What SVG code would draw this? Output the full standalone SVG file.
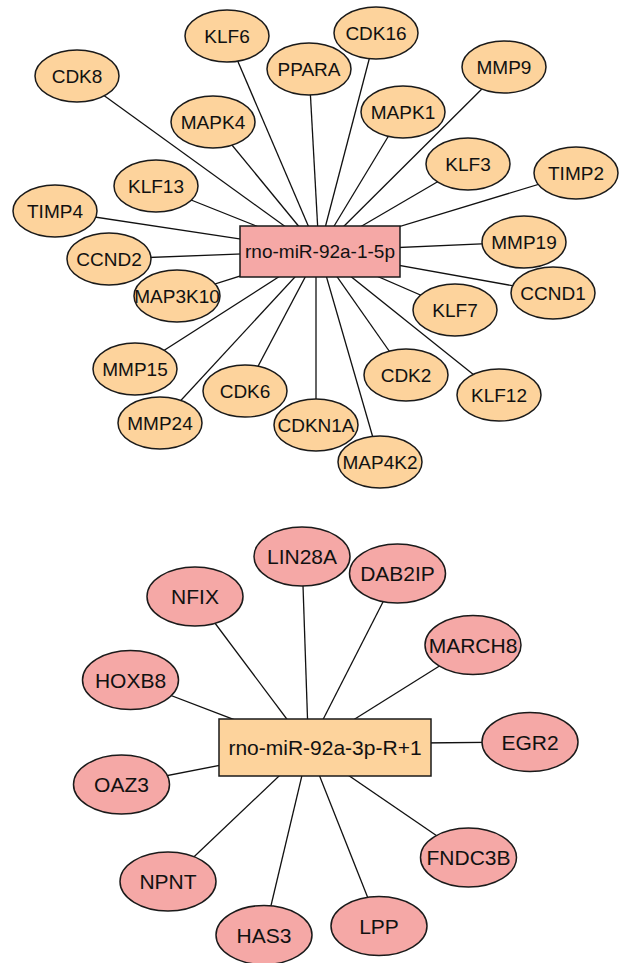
<svg xmlns="http://www.w3.org/2000/svg" width="622" height="963" viewBox="0 0 622 963">
<style>
.e{stroke:#111;stroke-width:1.3;fill:none}
.pe{fill:#FDD39C;stroke:#1a1a1a;stroke-width:1.5}
.pk{fill:#F5A8A6;stroke:#1a1a1a;stroke-width:1.5}
.t1{font-family:"Liberation Sans",Arial,sans-serif;font-size:19px;fill:#111;text-anchor:middle}
.t2{font-family:"Liberation Sans",Arial,sans-serif;font-size:21px;fill:#111;text-anchor:middle}
</style>
<rect width="622" height="963" fill="#fff"/>
<g id="edges" class="e">
<line x1="77" y1="76" x2="319" y2="251"/>
<line x1="227" y1="36" x2="319" y2="251"/>
<line x1="309" y1="69" x2="319" y2="251"/>
<line x1="376" y1="33" x2="319" y2="251"/>
<line x1="504" y1="67" x2="319" y2="251"/>
<line x1="213" y1="122" x2="319" y2="251"/>
<line x1="403" y1="112" x2="319" y2="251"/>
<line x1="468" y1="164" x2="319" y2="251"/>
<line x1="576" y1="173" x2="319" y2="251"/>
<line x1="156" y1="186" x2="319" y2="251"/>
<line x1="55" y1="211" x2="319" y2="251"/>
<line x1="109" y1="259" x2="319" y2="251"/>
<line x1="177" y1="296" x2="319" y2="251"/>
<line x1="524" y1="242" x2="319" y2="251"/>
<line x1="553" y1="293" x2="319" y2="251"/>
<line x1="455" y1="310" x2="319" y2="251"/>
<line x1="135" y1="369" x2="319" y2="251"/>
<line x1="245" y1="391" x2="319" y2="251"/>
<line x1="406" y1="375" x2="319" y2="251"/>
<line x1="499" y1="395" x2="319" y2="251"/>
<line x1="160" y1="423" x2="319" y2="251"/>
<line x1="316" y1="425" x2="316" y2="251"/>
<line x1="380" y1="462" x2="319" y2="251"/>
<line x1="302" y1="556" x2="308.5" y2="748"/>
<line x1="397.5" y1="573.5" x2="308.5" y2="748"/>
<line x1="473" y1="645" x2="308.5" y2="748"/>
<line x1="530" y1="742" x2="420" y2="743"/>
<line x1="130.5" y1="680" x2="308.5" y2="748"/>
<line x1="195" y1="596.5" x2="308.5" y2="748"/>
<line x1="121.5" y1="784.5" x2="308.5" y2="748"/>
<line x1="168" y1="881.5" x2="308.5" y2="748"/>
<line x1="264" y1="935" x2="308.5" y2="748"/>
<line x1="379" y1="926" x2="308.5" y2="748"/>
<line x1="468.5" y1="857.5" x2="308.5" y2="748"/>
</g>
<g id="hub1"><rect class="pk" x="240" y="226" width="160" height="51"/><text class="t1" x="320" y="258">rno-miR-92a-1-5p</text></g>
<g id="CDK8"><ellipse class="pe" cx="77" cy="76" rx="42" ry="26"/><text class="t1" x="77" y="83">CDK8</text></g>
<g id="KLF6"><ellipse class="pe" cx="227" cy="36" rx="42" ry="26"/><text class="t1" x="227" y="43">KLF6</text></g>
<g id="PPARA"><ellipse class="pe" cx="309" cy="69" rx="42" ry="26"/><text class="t1" x="309" y="76">PPARA</text></g>
<g id="CDK16"><ellipse class="pe" cx="376" cy="33" rx="42" ry="26"/><text class="t1" x="376" y="40">CDK16</text></g>
<g id="MMP9"><ellipse class="pe" cx="504" cy="67" rx="42" ry="26"/><text class="t1" x="504" y="74">MMP9</text></g>
<g id="MAPK4"><ellipse class="pe" cx="213" cy="122" rx="42" ry="26"/><text class="t1" x="213" y="129">MAPK4</text></g>
<g id="MAPK1"><ellipse class="pe" cx="403" cy="112" rx="42" ry="26"/><text class="t1" x="403" y="119">MAPK1</text></g>
<g id="KLF3"><ellipse class="pe" cx="468" cy="164" rx="42" ry="26"/><text class="t1" x="468" y="171">KLF3</text></g>
<g id="TIMP2"><ellipse class="pe" cx="576" cy="173" rx="42" ry="26"/><text class="t1" x="576" y="180">TIMP2</text></g>
<g id="KLF13"><ellipse class="pe" cx="156" cy="186" rx="42" ry="26"/><text class="t1" x="156" y="193">KLF13</text></g>
<g id="TIMP4"><ellipse class="pe" cx="55" cy="211" rx="42" ry="26"/><text class="t1" x="55" y="218">TIMP4</text></g>
<g id="CCND2"><ellipse class="pe" cx="109" cy="259" rx="42" ry="26"/><text class="t1" x="109" y="266">CCND2</text></g>
<g id="MAP3K10"><ellipse class="pe" cx="177" cy="296" rx="43" ry="26"/><text class="t1" x="177" y="303">MAP3K10</text></g>
<g id="MMP19"><ellipse class="pe" cx="524" cy="242" rx="42" ry="26"/><text class="t1" x="524" y="249">MMP19</text></g>
<g id="CCND1"><ellipse class="pe" cx="553" cy="293" rx="42" ry="26"/><text class="t1" x="553" y="300">CCND1</text></g>
<g id="KLF7"><ellipse class="pe" cx="455" cy="310" rx="42" ry="26"/><text class="t1" x="455" y="317">KLF7</text></g>
<g id="MMP15"><ellipse class="pe" cx="135" cy="369" rx="42" ry="26"/><text class="t1" x="135" y="376">MMP15</text></g>
<g id="CDK6"><ellipse class="pe" cx="245" cy="391" rx="42" ry="26"/><text class="t1" x="245" y="398">CDK6</text></g>
<g id="CDK2"><ellipse class="pe" cx="406" cy="375" rx="42" ry="26"/><text class="t1" x="406" y="382">CDK2</text></g>
<g id="KLF12"><ellipse class="pe" cx="499" cy="395" rx="42" ry="26"/><text class="t1" x="499" y="402">KLF12</text></g>
<g id="MMP24"><ellipse class="pe" cx="160" cy="423" rx="42" ry="26"/><text class="t1" x="160" y="430">MMP24</text></g>
<g id="CDKN1A"><ellipse class="pe" cx="316" cy="425" rx="42" ry="26"/><text class="t1" x="316" y="432">CDKN1A</text></g>
<g id="MAP4K2"><ellipse class="pe" cx="380" cy="462" rx="42" ry="26"/><text class="t1" x="380" y="469">MAP4K2</text></g>
<g id="hub2"><rect class="pe" x="219" y="719" width="212" height="57"/><text class="t2" x="325" y="755">rno-miR-92a-3p-R+1</text></g>
<g id="LIN28A"><ellipse class="pk" cx="302" cy="556.5" rx="48" ry="29.5"/><text class="t2" x="302" y="564">LIN28A</text></g>
<g id="DAB2IP"><ellipse class="pk" cx="397.5" cy="573.5" rx="48" ry="29.5"/><text class="t2" x="397.5" y="581">DAB2IP</text></g>
<g id="MARCH8"><ellipse class="pk" cx="473" cy="645" rx="48" ry="29.5"/><text class="t2" x="473" y="652.5">MARCH8</text></g>
<g id="EGR2"><ellipse class="pk" cx="530" cy="742" rx="48" ry="29.5"/><text class="t2" x="530" y="749.5">EGR2</text></g>
<g id="HOXB8"><ellipse class="pk" cx="130.5" cy="680" rx="48" ry="29.5"/><text class="t2" x="130.5" y="687.5">HOXB8</text></g>
<g id="NFIX"><ellipse class="pk" cx="195" cy="596.5" rx="48" ry="29.5"/><text class="t2" x="195" y="604">NFIX</text></g>
<g id="OAZ3"><ellipse class="pk" cx="121.5" cy="784.5" rx="48" ry="29.5"/><text class="t2" x="121.5" y="792">OAZ3</text></g>
<g id="NPNT"><ellipse class="pk" cx="168" cy="881.5" rx="48" ry="29.5"/><text class="t2" x="168" y="889">NPNT</text></g>
<g id="HAS3"><ellipse class="pk" cx="264" cy="935" rx="48" ry="29.5"/><text class="t2" x="264" y="942.5">HAS3</text></g>
<g id="LPP"><ellipse class="pk" cx="379" cy="926" rx="48" ry="29.5"/><text class="t2" x="379" y="933.5">LPP</text></g>
<g id="FNDC3B"><ellipse class="pk" cx="468.5" cy="857.5" rx="48" ry="29.5"/><text class="t2" x="468.5" y="865">FNDC3B</text></g>
</svg>
